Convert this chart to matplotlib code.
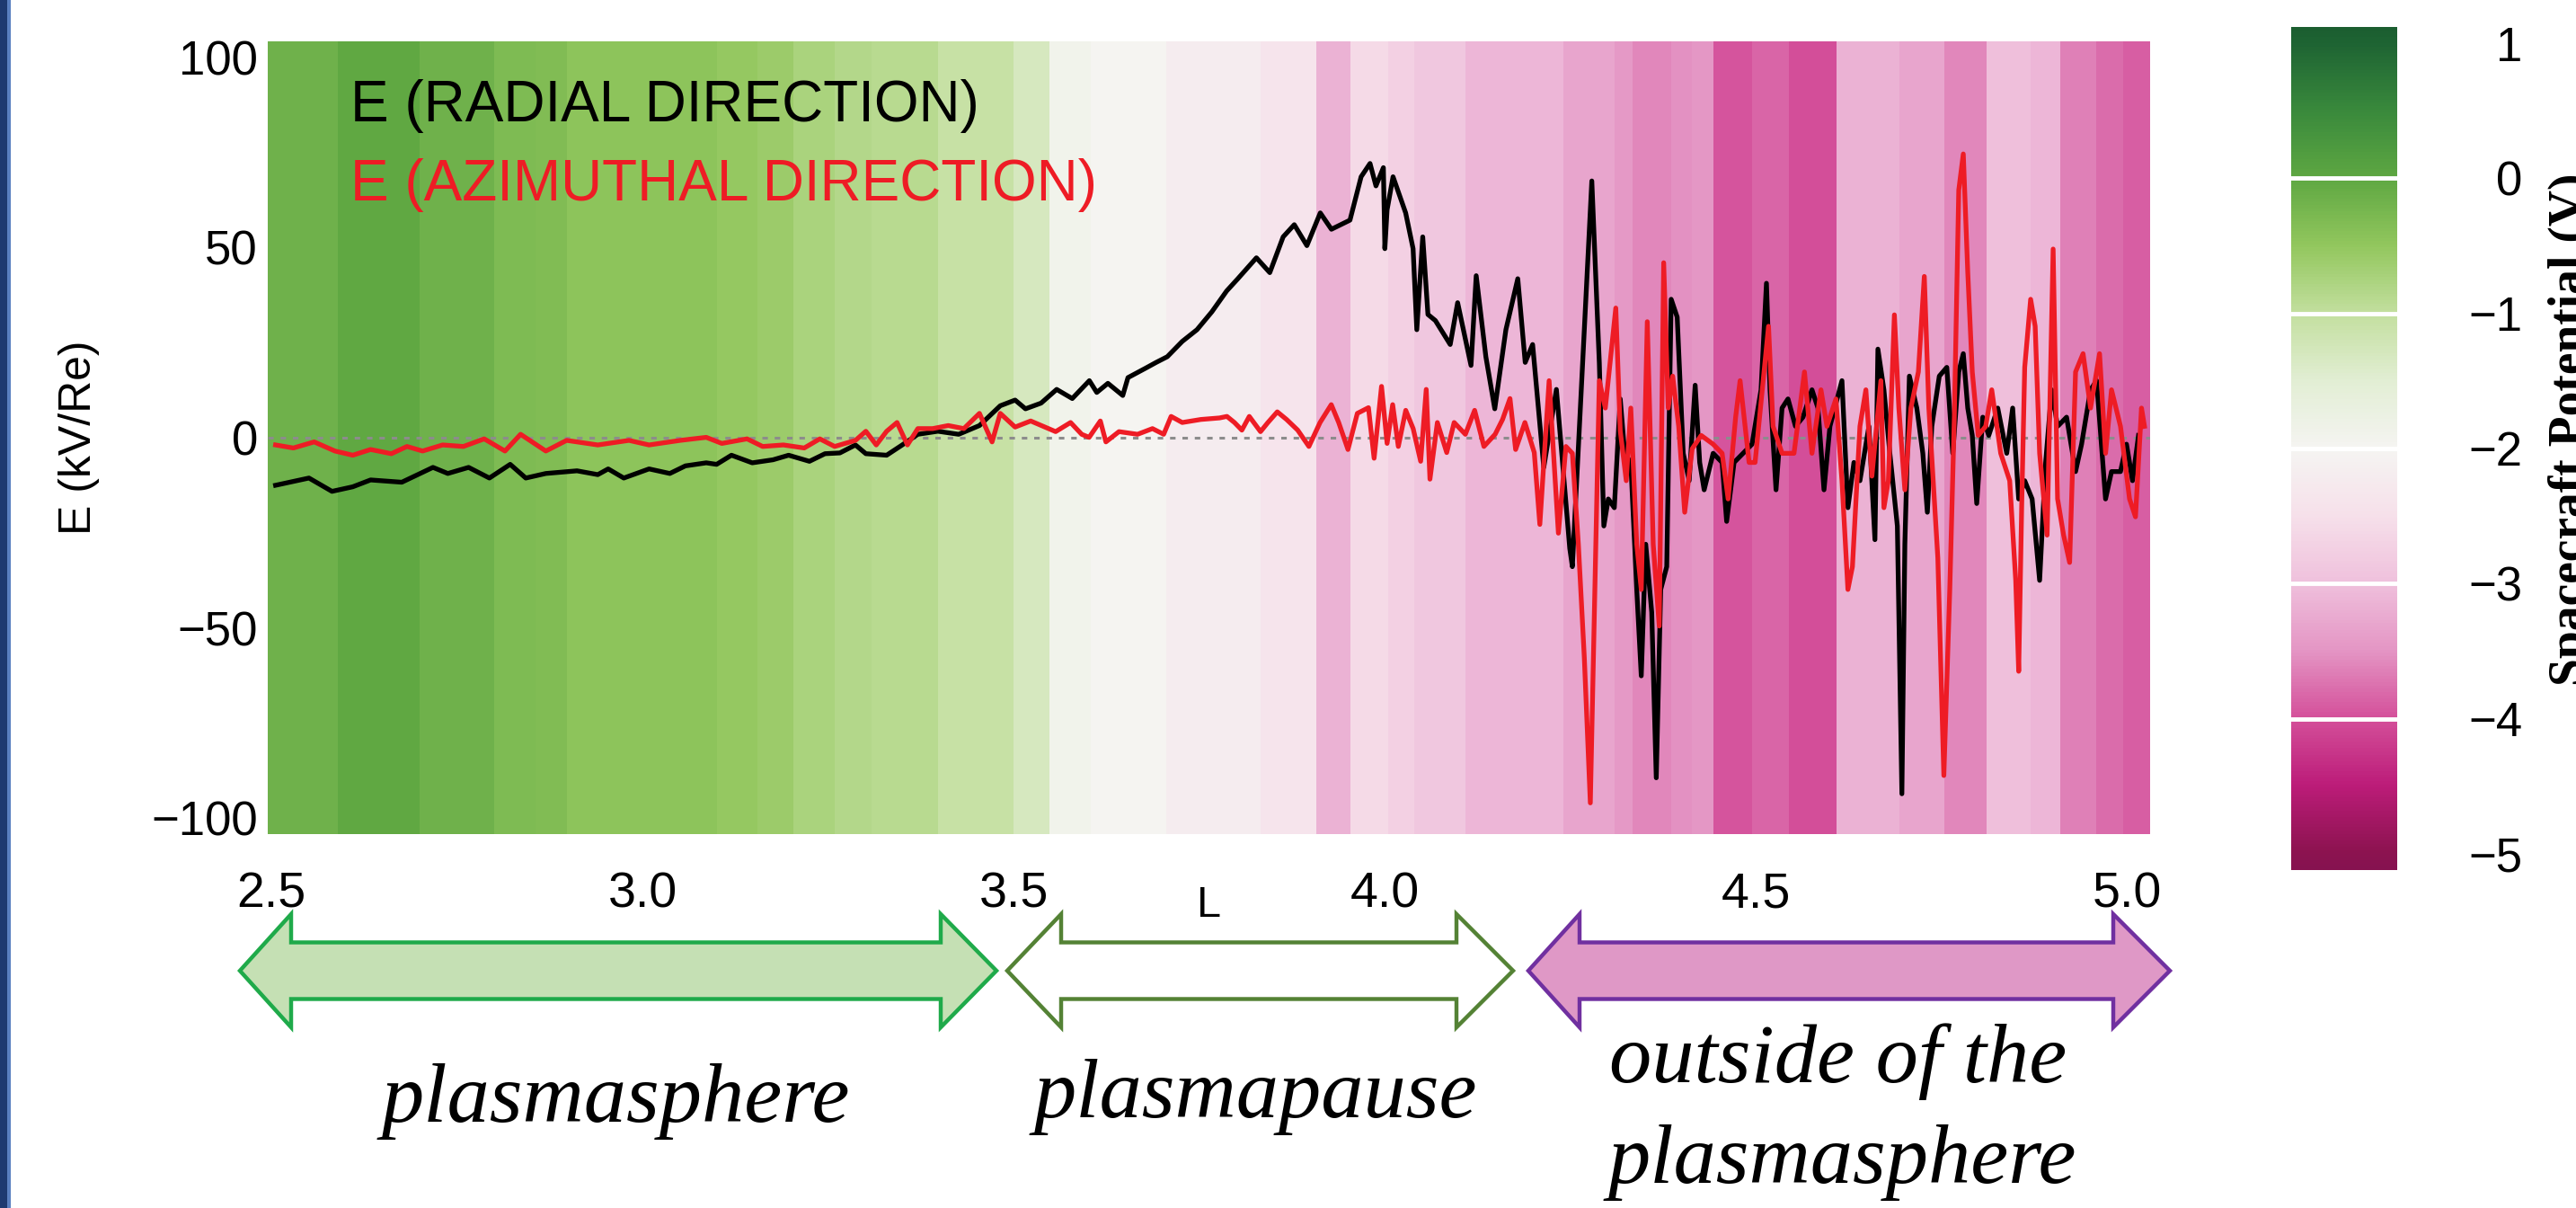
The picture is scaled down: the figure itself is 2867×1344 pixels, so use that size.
import numpy as np
import matplotlib
matplotlib.use("Agg")
import matplotlib.pyplot as plt
from matplotlib.colors import LinearSegmentedColormap, Normalize
from matplotlib.patches import Polygon, Rectangle

# ---- data ----
# radial component (black)
radial_L = [2.506, 2.551, 2.582, 2.610, 2.634, 2.676, 2.718, 2.738, 2.766, 2.794, 2.822, 2.843,
            2.870, 2.912, 2.940, 2.954, 2.975, 3.009, 3.037, 3.058, 3.086, 3.100, 3.120, 3.148,
            3.176, 3.197, 3.225, 3.246, 3.266, 3.287, 3.301, 3.329, 3.350, 3.371, 3.398, 3.426,
            3.454, 3.482, 3.502, 3.516, 3.537, 3.558,
            3.579, 3.602, 3.612, 3.627, 3.647, 3.654, 3.677, 3.692, 3.707, 3.727, 3.747, 3.767,
            3.787, 3.802, 3.827, 3.845, 3.863, 3.878, 3.895, 3.913, 3.928, 3.953, 3.968, 3.980,
            3.988, 3.998, 4.000, 4.003, 4.011, 4.028, 4.038, 4.043, 4.051, 4.058, 4.068, 4.088,
            4.098, 4.116, 4.123, 4.136, 4.148, 4.163, 4.179, 4.189, 4.199, 4.214, 4.231, 4.249,
            4.2525, 4.2787, 4.2888, 4.2949, 4.3009, 4.309, 4.317, 4.323, 4.3312, 4.3392, 4.3453,
            4.3513, 4.3594, 4.3655, 4.3715, 4.3796, 4.3856, 4.3937, 4.4018, 4.4098, 4.4179, 4.424,
            4.430, 4.4421, 4.4542, 4.4603, 4.4703, 4.4824, 4.4945, 4.5066, 4.5139, 4.5187, 4.5268,
            4.5349, 4.5429, 4.553, 4.5631, 4.5752, 4.5833, 4.5914, 4.5994, 4.6075, 4.6156, 4.6236,
            4.6317, 4.6398, 4.6519, 4.660, 4.664,
            4.6721, 4.6801, 4.6902, 4.6963, 4.7003, 4.7064, 4.7164, 4.7245, 4.7306, 4.7366, 4.7467,
            4.7568, 4.7648, 4.7729, 4.779, 4.785, 4.7911, 4.7971, 4.8052, 4.8133, 4.8254, 4.8375,
            4.8455, 4.8536, 4.8617, 4.8717, 4.8818, 4.8899, 4.898, 4.906, 4.9181, 4.9302, 4.9383,
            4.9504, 4.9585, 4.9706, 4.9786, 4.9907, 4.9988, 5.0069, 5.015]
radial_E = [-12.5, -10.6, -14.1, -12.9, -11.1, -11.7, -7.8, -9.4, -7.8, -10.6, -7.0, -10.6,
            -9.4, -8.7, -9.7, -8.2, -10.6, -8.2, -9.4, -7.4, -6.6, -7.0, -4.6, -6.6,
            -5.8, -4.6, -6.2, -4.2, -4.0, -1.9, -4.2, -4.6, -1.9, 0.9, 1.7, 0.9,
            3.2, 8.4, 9.9, 7.6, 9.1, 12.7,
            10.3, 15.0, 11.9, 14.3, 11.1, 15.8, 18.2, 19.8, 21.3, 25.3, 28.4, 33.1,
            38.6, 41.8, 47.3, 43.4, 52.8, 56.0, 50.5, 59.1, 54.8, 57.2, 68.6, 72.1,
            66.2, 71.0, 49.7, 59.9, 68.6, 59.1, 49.7, 28.4, 52.8, 32.4, 30.8, 24.5,
            35.5, 19.0, 42.6, 21.3, 7.6, 28.4, 41.8, 19.8, 24.5, -7.8, 12.7, -29.1,
            -33.9, 67.5, 19.7, -23.2, -16.1, -18.4, 10.2, -4.1, -6.5, -39.9, -62.6,
            -28.0, -45.9, -89.4, -39.9, -33.9, 36.4, 31.7, -4.1, -11.3, 13.8, -6.5,
            -13.7, -4.1, -6.5, -22.0, -6.5, -4.1, -1.7, 12.6, 40.6, 12.6, -13.7,
            7.8, 10.2, 3.0, 5.4, 12.6, 7.8, -13.7, 3.0, 9.0, 15.0, -18.4,
            -6.5, -11.3, 3.0, -26.8, 23.3,
            12.6, -4.1, -23.2, -93.6, -28.0, 16.2, 7.8, -4.1, -19.6, 3.0, 16.2,
            18.5, -4.1, 17.3, 22.1, 7.8, 0.6, -17.3, 5.4, 0.6, 7.8, -4.1,
            7.8, -16.1, -11.3, -16.1, -37.5, -6.5, 12.6, 3.0, 5.4, -8.9, -1.7,
            12.6, 15.0, -16.1, -8.9, -8.9, -1.7, -11.3, 0.6]

# azimuthal component (red)
azim_L = [2.506, 2.530, 2.558, 2.586, 2.610, 2.634, 2.662, 2.683, 2.704, 2.731, 2.759, 2.787,
          2.815, 2.836, 2.870, 2.898, 2.940, 2.982, 3.009, 3.051, 3.086, 3.107, 3.141, 3.162,
          3.190, 3.218, 3.239, 3.259, 3.287, 3.301, 3.315, 3.329, 3.343, 3.357, 3.371, 3.391,
          3.412, 3.433, 3.454, 3.471, 3.482, 3.502, 3.523,
          3.5566, 3.5767, 3.5917, 3.6017, 3.6168, 3.6243, 3.6419, 3.6669, 3.687, 3.7021, 3.7121,
          3.7271, 3.7522, 3.7773, 3.7873, 3.7974, 3.8074, 3.8174, 3.8325, 3.8425, 3.8551, 3.8676,
          3.8826, 3.8977, 3.9127, 3.9278, 3.9378, 3.9503, 3.9629, 3.9779, 3.9855, 3.9955, 4.003,
          4.0105, 4.0181, 4.0281, 4.0381, 4.0482, 4.0557, 4.0607, 4.0707, 4.0833, 4.0933, 4.1084,
          4.1209, 4.1334, 4.1485, 4.1585, 4.1685, 4.1761, 4.1886, 4.2012, 4.2087, 4.2212, 4.2337,
          4.2438,
          4.2525, 4.2606, 4.2686, 4.2767, 4.2828, 4.2888, 4.2969, 4.311, 4.317, 4.3251, 4.3312,
          4.3392, 4.3453, 4.3534, 4.3614, 4.3695, 4.3755, 4.3816, 4.3876, 4.3957, 4.4038, 4.4139,
          4.426, 4.4421, 4.4542, 4.4623, 4.4724, 4.4784, 4.4905, 4.4986, 4.5107, 4.5167, 4.5228,
          4.5349, 4.551, 4.5651, 4.5752, 4.5873, 4.5954, 4.6075, 4.6156, 4.6236, 4.6297, 4.6398,
          4.6478, 4.6559, 4.668,
          4.6721, 4.6781, 4.6862, 4.6922, 4.7003, 4.7084, 4.7185, 4.7265, 4.7326, 4.7447, 4.7528,
          4.7608, 4.7669, 4.7729, 4.779, 4.785, 4.7911, 4.7991, 4.8092, 4.8173, 4.8294, 4.8415,
          4.8496, 4.8536, 4.8576, 4.8617, 4.8697, 4.8758, 4.8818, 4.8919, 4.900, 4.906, 4.9141,
          4.9222, 4.9302, 4.9403, 4.9504, 4.9625, 4.9706, 4.9786, 4.9907, 5.0029, 5.0109, 5.019,
          5.023]
azim_E = [-1.9, -2.7, -1.1, -3.5, -4.6, -3.1, -4.2, -2.3, -3.5, -1.9, -2.3, -0.3,
          -3.5, 0.9, -3.5, -0.7, -1.9, -0.7, -1.9, -0.7, 0.1, -1.5, -0.3, -2.3,
          -1.9, -2.7, -0.3, -2.3, -0.7, 1.7, -1.9, 1.7, 4.0, -1.9, 2.4, 2.4,
          3.2, 2.4, 6.4, -1.1, 6.4, 2.8, 4.4,
          1.6, 4.0, 0.9, 0.1, 4.4, -1.1, 1.6, 0.9, 2.4, 0.9, 5.6,
          4.0, 4.8, 5.2, 5.6, 4.0, 2.0, 5.6, 1.6, 4.0, 6.8, 4.8,
          2.0, -2.3, 4.0, 8.7, 4.0, -3.1, 6.4, 7.9, -5.4, 13.5, -1.5,
          8.7, -2.3, 7.2, 2.4, -6.2, 12.7, -10.9, 4.0, -3.9, 4.0, 0.9,
          7.2, -2.3, 0.9, 4.8, 10.3, -3.1, 4.0, -3.9, -22.8, 15.0, -25.1,
          -2.3,
          -4.1, -28.0, -57.8, -96.0, -39.9, 15.0, 7.8, 34.1, 1.8, -11.3, 7.8,
          -28.0, -39.9, 30.5, -28.0, -49.5, 46.0, 7.8, 16.2, 3.0, -19.6, -2.9,
          0.6, -1.7, -4.1, -16.1, 5.4, 15.0, -6.5, -6.5, 17.3, 29.3, 3.0,
          -4.1, -4.1, 17.3, -4.1, 12.6, 3.0, 10.2, -11.3, -39.9, -33.9, 3.0,
          12.6, -10.1, 15.0,
          -18.4, -11.3, 32.3, 7.8, -13.7, 7.8, 17.3, 42.4, 7.8, -31.6, -88.8,
          -39.9, 5.4, 65.1, 74.6, 43.6, 17.3, 0.6, 3.0, 12.6, -4.1, -11.3,
          -37.5, -61.4, -18.4, 18.5, 36.4, 29.3, -4.1, -25.6, 49.6, -16.1, -25.6,
          -32.8, 17.3, 22.1, 7.8, 22.1, -4.1, 12.6, 3.0, -16.1, -20.8, 7.8,
          3.0]

# spacecraft potential (V) background bands along L
stripe_edges = [2.495, 2.59, 2.70, 2.80, 2.856, 2.898, 3.10, 3.155, 3.203, 3.259, 3.309, 3.398,
                3.50, 3.548, 3.604, 3.705, 3.833, 3.908, 3.954, 4.004, 4.039, 4.109, 4.24, 4.31,
                4.334, 4.386, 4.414, 4.443, 4.495, 4.544, 4.608, 4.693, 4.753, 4.81, 4.87, 4.91,
                4.958, 4.994, 5.035]
stripe_potential = [-0.15, -0.02, -0.15, -0.3, -0.32, -0.45, -0.52, -0.6, -0.75, -0.85, -0.88,
                    -1.05, -1.3, -1.9, -2.0, -2.2, -2.4, -3.15, -2.6, -2.75, -2.9, -3.1, -3.3,
                    -3.45, -3.6, -3.52, -3.48, -3.95, -3.85, -4.0, -3.15, -3.3, -3.6, -3.0,
                    -3.1, -3.65, -3.8, -3.9]

x_ticks = [2.5, 3.0, 3.5, 4.0, 4.5, 5.0]
x_ticklabels = ["2.5", "3.0", "3.5", "4.0", "4.5", "5.0"]
y_ticks = [-100, -50, 0, 50, 100]
cbar_ticks = [1, 0, -1, -2, -3, -4, -5]

region_lines = ["plasmasphere", "plasmapause", "outside of the", "plasmasphere"]

# ---- figure geometry (pixels) ----
W, H = 2867, 1344
fig = plt.figure(figsize=(W / 100, H / 100), dpi=100)
plt.rcParams["font.family"] = ["Liberation Sans", "DejaVu Sans"]


def box(x0, y0, x1, y1):
    return [x0 / W, 1 - y1 / H, (x1 - x0) / W, (y1 - y0) / H]


ax_l, ax_t, ax_r, ax_b = 298, 46, 2393, 928
ax = fig.add_axes(box(ax_l, ax_t, ax_r, ax_b))

# colormap similar to the original potential scale (green high, magenta low)
anchors = [(-5.12, "#861250"), (-5.0, "#8c1350"), (-4.5, "#bc1c79"), (-4.0, "#d4509a"),
           (-3.5, "#e495c4"), (-3.0, "#efc0dc"), (-2.5, "#f6e0ea"), (-2.0, "#f5f4f2"),
           (-1.5, "#e2eed4"), (-1.0, "#c3df9f"), (-0.5, "#93c75e"), (0.0, "#5fa842"),
           (0.5, "#3a8a3c"), (1.0, "#1e6433"), (1.12, "#1b5e30")]
vmin, vmax = -5.12, 1.12
cmap = LinearSegmentedColormap.from_list(
    "potential", [((v - vmin) / (vmax - vmin), c) for v, c in anchors])
norm = Normalize(vmin, vmax)

mesh = ax.pcolormesh(stripe_edges, [-110, 110], np.array([stripe_potential]),
                     cmap=cmap, norm=norm, shading="flat", zorder=0)

ax.axhline(0, color="#8c8c8c", lw=2.2, ls=(0, (2, 2.5)), zorder=1)
ax.plot(radial_L, radial_E, color="black", lw=3.8, zorder=2)
ax.plot(azim_L, azim_E, color="#ee1c25", lw=3.8, zorder=3)

ax.set_xlim(2.4955, 5.0306)
ax.set_ylim(-104.2, 104.2)
for s in ax.spines.values():
    s.set_visible(False)

ax.set_xticks(x_ticks)
ax.set_xticklabels(x_ticklabels)
ax.set_yticks(y_ticks)
ax.tick_params(axis="x", length=0, pad=30, labelsize=40)
ax.tick_params(axis="y", length=0, pad=8, labelsize=38)

ax.set_xlabel("L", fontsize=35)
ax.xaxis.set_label_coords(0.5, (ax_b - 1007) / (ax_b - ax_t))
ax.xaxis.label.set_va("center")
ax.set_ylabel("E (kV/Re)", fontsize=36)
ax.yaxis.set_label_coords((88 - ax_l) / (ax_r - ax_l), 0.5)
ax.yaxis.label.set_va("center")

ax.text(2.607, 83.1, "E (RADIAL DIRECTION)", color="black", fontsize=46,
        va="baseline", zorder=4)
ax.text(2.607, 62.4, "E (AZIMUTHAL DIRECTION)", color="#ee1c25", fontsize=46,
        va="baseline", zorder=4)

# ---- colorbar ----
cb_l, cb_r = 2550, 2668
cax = fig.add_axes(box(cb_l, 30, cb_r, 968))
cb = fig.colorbar(mesh, cax=cax)
cb.outline.set_visible(False)
cb.set_ticks(cbar_ticks)
cb.set_ticklabels([str(t).replace("-", "\u2212") for t in cbar_ticks])
cax.tick_params(length=0, pad=(2807 - cb_r) * 0.72, labelsize=38)
for lab in cax.get_yticklabels():
    lab.set_horizontalalignment("right")
for v in [0, -1, -2, -3, -4]:
    cax.axhline(v, color="white", lw=3.5)

# ---- overlay in pixel coordinates: arrows, region names, frame strip ----
ov = fig.add_axes([0, 0, 1, 1], zorder=-1)
ov.set_xlim(0, W)
ov.set_ylim(H, 0)
ov.axis("off")

ov.add_patch(Rectangle((0, 0), 8, H, color="#1e3a70", lw=0))
ov.add_patch(Rectangle((8, 0), 4, H, color="#5a80c0", lw=0))


def double_arrow(xl, xbl, xbr, xr, face, edge, yc=1080, hh=63, sh=31.5):
    pts = [(xl, yc), (xbl, yc - hh), (xbl, yc - sh), (xbr, yc - sh), (xbr, yc - hh),
           (xr, yc), (xbr, yc + hh), (xbr, yc + sh), (xbl, yc + sh), (xbl, yc + hh)]
    ov.add_patch(Polygon(pts, closed=True, facecolor=face, edgecolor=edge, lw=3.2,
                         joinstyle="miter"))


double_arrow(267, 324, 1047, 1109, "#c5e0b4", "#1faa4a")
double_arrow(1121, 1181, 1621, 1684, "white", "#548235")
double_arrow(1701, 1758, 2352, 2415, "#df98c6", "#7030a0")

serif_it = dict(family=["Liberation Serif", "DejaVu Serif"], style="italic", fontsize=68,
                color="black", ha="center", va="baseline")
ov.text(685, 1248, region_lines[0], **serif_it)
ov.text(1397, 1243, region_lines[1], **serif_it)
ov.text(2046, 1204, region_lines[2], **serif_it)
ov.text(2050, 1316, region_lines[3], **serif_it)

# colorbar title: partly past the right edge, as in the original
fig.text(2836 / W, 1 - 478 / H, "Spacecraft Potential (V)", rotation=90, ha="left",
         va="center", fontsize=40, fontweight="bold",
         family=["Liberation Serif", "DejaVu Serif"])

fig.savefig("out.png", dpi=100)
